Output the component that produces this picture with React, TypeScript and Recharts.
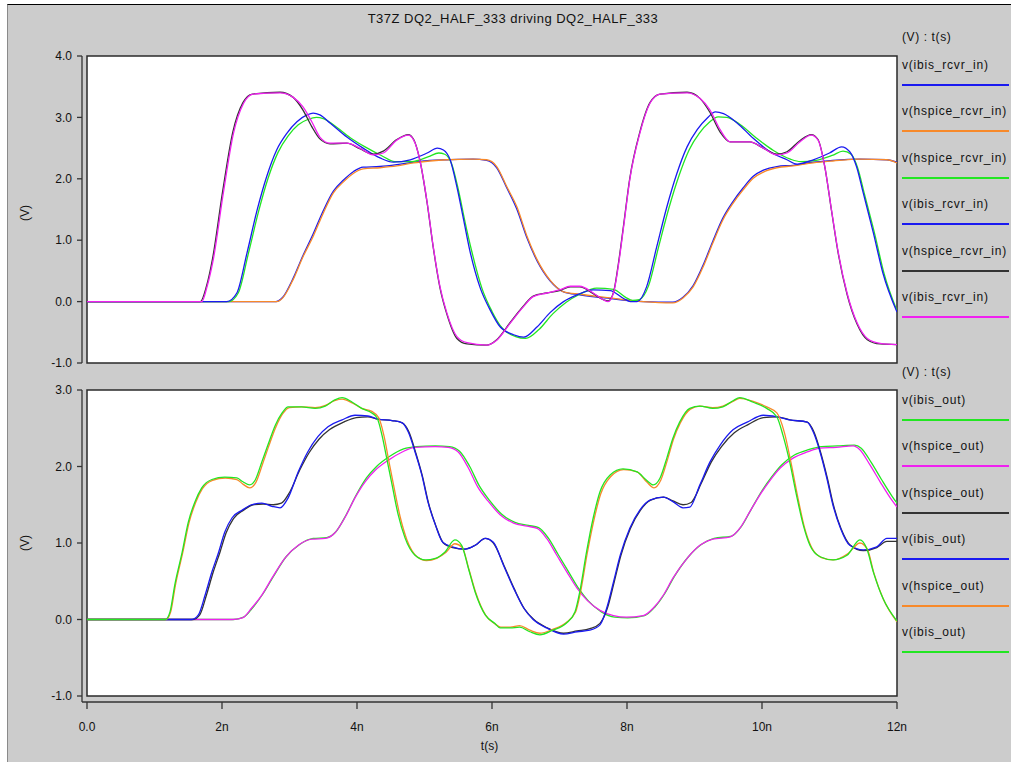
import React from 'react';
import { LineChart, Line, XAxis, YAxis, ReferenceArea } from 'recharts';

type Pt = [number, number];

const timeTicks = [0, 2, 4, 6, 8, 10, 12];
const topTicks = [-1, 0, 1, 2, 3, 4];
const bottomTicks = [-1, 0, 1, 2, 3];

const chartTitle = 'T37Z DQ2_HALF_333 driving DQ2_HALF_333';
const legendHeader = '(V) : t(s)';

// ---- top panel (receiver inputs) ----
const topFastIbis: Pt[] = [[0,0],[1.70,0],[1.78,0.25],[1.87,0.68],[2.02,1.77],[2.17,2.74],[2.32,3.23],[2.46,3.38],[2.86,3.40],[3.05,3.33],[3.2,3.17],[3.33,2.93],[3.45,2.68],[3.6,2.58],[3.85,2.58],[4.04,2.5],[4.24,2.39],[4.39,2.42],[4.59,2.63],[4.76,2.71],[4.84,2.63],[4.93,2.31],[5.04,1.61],[5.13,0.89],[5.23,0.24],[5.33,-0.18],[5.48,-0.57],[5.63,-0.67],[5.92,-0.71],[6.07,-0.63],[6.27,-0.35],[6.46,-0.09],[6.61,0.08],[6.81,0.14],[7.0,0.19],[7.16,0.25],[7.3,0.25],[7.5,0.14],[7.65,0.03],[7.72,0.0],[7.8,0.14],[7.87,0.57],[7.95,1.22],[8.04,1.98],[8.19,2.74],[8.34,3.23],[8.49,3.38],[8.89,3.40],[9.08,3.31],[9.23,3.12],[9.38,2.8],[9.53,2.6],[9.82,2.6],[10.02,2.5],[10.22,2.39],[10.37,2.42],[10.56,2.6],[10.73,2.71],[10.83,2.63],[10.93,2.2],[11.03,1.49],[11.13,0.8],[11.26,0.14],[11.41,-0.35],[11.56,-0.6],[11.75,-0.68],[12.0,-0.7]];
const topFastHspice: Pt[] = [[0,0],[1.68,0],[1.77,0.25],[1.86,0.7],[2.01,1.8],[2.16,2.76],[2.31,3.24],[2.45,3.38],[2.86,3.41],[3.05,3.33],[3.2,3.12],[3.33,2.85],[3.45,2.65],[3.6,2.57],[3.85,2.58],[4.04,2.49],[4.24,2.4],[4.39,2.45],[4.59,2.64],[4.76,2.72],[4.84,2.64],[4.93,2.31],[5.04,1.6],[5.13,0.88],[5.23,0.22],[5.33,-0.2],[5.48,-0.6],[5.63,-0.69],[5.92,-0.71],[6.07,-0.62],[6.27,-0.34],[6.46,-0.08],[6.61,0.09],[6.81,0.14],[7.0,0.18],[7.16,0.24],[7.3,0.24],[7.5,0.13],[7.65,0.03],[7.72,0.01],[7.8,0.15],[7.87,0.6],[7.95,1.25],[8.04,2.0],[8.19,2.76],[8.34,3.24],[8.49,3.38],[8.89,3.41],[9.08,3.31],[9.23,3.08],[9.38,2.76],[9.53,2.6],[9.82,2.6],[10.02,2.5],[10.22,2.4],[10.37,2.44],[10.56,2.62],[10.73,2.72],[10.83,2.64],[10.93,2.2],[11.03,1.48],[11.13,0.78],[11.26,0.12],[11.41,-0.37],[11.56,-0.62],[11.75,-0.69],[12.0,-0.7]];
const topMidIbis: Pt[] = [[0,0],[2.07,0],[2.22,0.14],[2.37,0.79],[2.52,1.49],[2.66,2.03],[2.81,2.47],[2.96,2.74],[3.11,2.93],[3.26,3.04],[3.35,3.07],[3.45,3.04],[3.6,2.91],[3.85,2.68],[4.09,2.5],[4.34,2.34],[4.54,2.27],[4.79,2.31],[5.04,2.42],[5.19,2.5],[5.28,2.47],[5.38,2.31],[5.48,1.87],[5.58,1.33],[5.67,0.84],[5.82,0.24],[5.97,-0.13],[6.12,-0.41],[6.32,-0.54],[6.47,-0.58],[6.67,-0.41],[6.86,-0.18],[7.06,0.0],[7.26,0.11],[7.5,0.19],[7.75,0.18],[7.95,0.05],[8.05,0.0],[8.15,0.0],[8.29,0.24],[8.44,0.89],[8.59,1.54],[8.74,2.09],[8.89,2.52],[9.04,2.8],[9.19,2.99],[9.31,3.09],[9.43,3.06],[9.63,2.91],[9.87,2.66],[10.12,2.44],[10.37,2.31],[10.52,2.24],[10.76,2.31],[11.0,2.42],[11.18,2.52],[11.3,2.44],[11.4,2.2],[11.5,1.77],[11.65,1.12],[11.79,0.47],[12.0,-0.17]];
const topMidHspice: Pt[] = [[0,0],[2.1,0],[2.24,0.14],[2.39,0.78],[2.54,1.46],[2.68,2.0],[2.83,2.43],[2.98,2.7],[3.13,2.88],[3.28,2.97],[3.4,3.0],[3.5,2.98],[3.65,2.88],[3.9,2.67],[4.12,2.52],[4.36,2.38],[4.56,2.28],[4.81,2.28],[5.06,2.36],[5.21,2.42],[5.3,2.4],[5.4,2.25],[5.5,1.83],[5.6,1.3],[5.7,0.82],[5.85,0.22],[6.0,-0.16],[6.15,-0.43],[6.35,-0.57],[6.5,-0.6],[6.7,-0.45],[6.9,-0.2],[7.1,-0.01],[7.3,0.12],[7.55,0.22],[7.8,0.2],[7.98,0.07],[8.08,0.02],[8.18,0.03],[8.32,0.26],[8.47,0.9],[8.62,1.52],[8.77,2.05],[8.92,2.47],[9.07,2.74],[9.22,2.92],[9.35,3.01],[9.48,3.0],[9.68,2.88],[9.92,2.66],[10.17,2.46],[10.42,2.32],[10.57,2.28],[10.8,2.3],[11.04,2.38],[11.2,2.45],[11.32,2.4],[11.42,2.17],[11.52,1.74],[11.67,1.1],[11.81,0.45],[12.0,-0.15]];
const topSlowHspice: Pt[] = [[0,0],[2.81,0],[2.9,0.06],[3.05,0.35],[3.2,0.73],[3.35,1.06],[3.5,1.44],[3.65,1.77],[3.8,1.95],[3.95,2.09],[4.09,2.16],[4.34,2.18],[4.59,2.21],[4.84,2.26],[5.08,2.29],[5.33,2.31],[5.72,2.32],[5.92,2.31],[6.07,2.2],[6.22,1.87],[6.37,1.54],[6.52,1.06],[6.67,0.68],[6.86,0.35],[7.06,0.16],[7.3,0.12],[7.75,0.06],[8.24,0.0],[8.68,-0.02],[8.83,0.06],[8.98,0.24],[9.13,0.57],[9.27,0.95],[9.42,1.33],[9.57,1.6],[9.72,1.82],[9.87,2.01],[10.02,2.11],[10.22,2.18],[10.46,2.21],[10.76,2.26],[11.05,2.29],[11.45,2.32],[11.85,2.31],[12.0,2.26]];
const topSlowIbis: Pt[] = [[0,0],[2.8,0],[2.9,0.07],[3.05,0.37],[3.2,0.75],[3.35,1.1],[3.5,1.48],[3.65,1.8],[3.8,1.98],[3.95,2.12],[4.09,2.19],[4.34,2.2],[4.59,2.23],[4.84,2.27],[5.08,2.3],[5.33,2.31],[5.72,2.32],[5.92,2.3],[6.07,2.18],[6.22,1.85],[6.37,1.5],[6.52,1.03],[6.67,0.66],[6.86,0.34],[7.06,0.16],[7.3,0.11],[7.75,0.05],[8.24,0.0],[8.68,-0.01],[8.83,0.07],[8.98,0.26],[9.13,0.6],[9.27,0.98],[9.42,1.36],[9.57,1.63],[9.72,1.85],[9.87,2.04],[10.02,2.14],[10.22,2.2],[10.46,2.22],[10.76,2.27],[11.05,2.3],[11.45,2.32],[11.85,2.31],[12.0,2.27]];

// ---- bottom panel (driver outputs) ----
const botFastIbis: Pt[] = [[0,0],[1.16,0],[1.23,0.1],[1.3,0.45],[1.41,0.88],[1.5,1.27],[1.6,1.54],[1.7,1.72],[1.85,1.83],[2.04,1.86],[2.22,1.85],[2.31,1.8],[2.41,1.76],[2.49,1.82],[2.59,2.06],[2.68,2.28],[2.79,2.54],[2.89,2.7],[2.98,2.78],[3.18,2.78],[3.38,2.76],[3.53,2.79],[3.67,2.87],[3.78,2.9],[3.93,2.84],[4.07,2.76],[4.22,2.7],[4.3,2.63],[4.37,2.41],[4.44,2.11],[4.52,1.76],[4.61,1.37],[4.71,1.07],[4.86,0.84],[5.01,0.78],[5.16,0.8],[5.3,0.88],[5.45,1.04],[5.55,0.97],[5.65,0.67],[5.75,0.36],[5.9,0.06],[6.04,-0.05],[6.12,-0.11],[6.27,-0.11],[6.41,-0.1],[6.56,-0.16],[6.71,-0.2],[6.9,-0.14],[7.1,-0.05],[7.23,0.1],[7.3,0.36],[7.4,0.88],[7.5,1.33],[7.6,1.67],[7.75,1.89],[7.94,1.97],[8.15,1.93],[8.29,1.82],[8.39,1.76],[8.49,1.85],[8.59,2.11],[8.68,2.37],[8.78,2.58],[8.93,2.76],[9.08,2.79],[9.27,2.76],[9.42,2.78],[9.57,2.86],[9.67,2.9],[9.87,2.84],[10.07,2.76],[10.22,2.65],[10.31,2.41],[10.41,2.06],[10.51,1.63],[10.61,1.24],[10.71,0.97],[10.86,0.82],[11.05,0.78],[11.26,0.84],[11.45,1.04],[11.55,0.93],[11.65,0.62],[11.79,0.28],[12.0,-0.02]];
const botFastHspice: Pt[] = [[0,0],[1.17,0],[1.24,0.1],[1.31,0.45],[1.42,0.88],[1.51,1.26],[1.61,1.53],[1.71,1.71],[1.86,1.82],[2.05,1.85],[2.22,1.83],[2.31,1.77],[2.41,1.72],[2.5,1.79],[2.6,2.03],[2.69,2.26],[2.8,2.52],[2.9,2.69],[3.0,2.77],[3.18,2.78],[3.38,2.77],[3.53,2.8],[3.67,2.86],[3.78,2.88],[3.93,2.83],[4.07,2.76],[4.22,2.72],[4.32,2.64],[4.4,2.4],[4.47,2.08],[4.55,1.72],[4.64,1.34],[4.74,1.04],[4.89,0.82],[5.03,0.77],[5.18,0.8],[5.32,0.88],[5.45,0.99],[5.56,0.94],[5.66,0.65],[5.76,0.35],[5.91,0.05],[6.05,-0.06],[6.13,-0.1],[6.27,-0.1],[6.41,-0.08],[6.56,-0.14],[6.71,-0.18],[6.9,-0.13],[7.1,-0.04],[7.24,0.1],[7.31,0.35],[7.41,0.86],[7.51,1.3],[7.61,1.64],[7.76,1.87],[7.95,1.96],[8.15,1.93],[8.29,1.8],[8.4,1.72],[8.5,1.82],[8.6,2.09],[8.69,2.36],[8.79,2.57],[8.94,2.75],[9.08,2.79],[9.27,2.77],[9.42,2.79],[9.57,2.85],[9.67,2.89],[9.87,2.85],[10.07,2.78],[10.22,2.7],[10.33,2.45],[10.43,2.05],[10.53,1.6],[10.63,1.2],[10.73,0.95],[10.88,0.81],[11.06,0.78],[11.27,0.86],[11.45,1.0],[11.56,0.92],[11.66,0.6],[11.8,0.26],[12.0,-0.03]];
const botMidIbis: Pt[] = [[0,0],[1.55,0],[1.65,0.06],[1.75,0.32],[1.85,0.62],[1.95,0.88],[2.04,1.14],[2.15,1.33],[2.3,1.43],[2.44,1.5],[2.59,1.52],[2.74,1.48],[2.86,1.46],[2.98,1.59],[3.13,1.93],[3.27,2.19],[3.42,2.39],[3.57,2.52],[3.78,2.61],[3.97,2.67],[4.16,2.66],[4.31,2.62],[4.52,2.6],[4.67,2.57],[4.76,2.45],[4.86,2.19],[4.96,1.89],[5.05,1.54],[5.16,1.24],[5.27,1.01],[5.41,0.95],[5.6,0.92],[5.75,0.97],[5.9,1.06],[6.02,1.01],[6.17,0.71],[6.32,0.41],[6.47,0.15],[6.61,0.0],[6.81,-0.11],[7.06,-0.19],[7.26,-0.16],[7.45,-0.14],[7.6,-0.07],[7.7,0.15],[7.8,0.49],[7.9,0.84],[8.04,1.19],[8.19,1.43],[8.34,1.56],[8.54,1.6],[8.68,1.54],[8.83,1.46],[8.93,1.47],[9.08,1.76],[9.23,2.06],[9.38,2.28],[9.57,2.48],[9.78,2.58],[10.02,2.67],[10.22,2.65],[10.41,2.61],[10.67,2.58],[10.76,2.45],[10.86,2.19],[10.96,1.85],[11.05,1.5],[11.16,1.2],[11.3,0.97],[11.5,0.91],[11.7,0.95],[11.85,1.06],[12.0,1.06]];
const botMidHspice: Pt[] = [[0,0],[1.57,0],[1.67,0.06],[1.77,0.32],[1.87,0.62],[1.97,0.88],[2.06,1.13],[2.17,1.32],[2.32,1.43],[2.46,1.5],[2.61,1.51],[2.76,1.5],[2.88,1.52],[3.0,1.66],[3.15,1.95],[3.29,2.18],[3.44,2.36],[3.59,2.48],[3.8,2.58],[3.99,2.64],[4.16,2.65],[4.31,2.62],[4.52,2.6],[4.67,2.57],[4.77,2.45],[4.87,2.18],[4.97,1.87],[5.06,1.52],[5.17,1.22],[5.28,1.0],[5.42,0.94],[5.6,0.92],[5.75,0.97],[5.9,1.06],[6.02,1.0],[6.18,0.7],[6.33,0.4],[6.48,0.14],[6.62,0.0],[6.82,-0.11],[7.06,-0.18],[7.26,-0.15],[7.45,-0.12],[7.6,-0.05],[7.71,0.15],[7.81,0.49],[7.91,0.84],[8.05,1.19],[8.2,1.43],[8.35,1.56],[8.54,1.6],[8.68,1.55],[8.83,1.5],[8.95,1.53],[9.1,1.78],[9.25,2.06],[9.4,2.26],[9.59,2.44],[9.8,2.55],[10.02,2.64],[10.22,2.65],[10.41,2.61],[10.67,2.58],[10.77,2.45],[10.87,2.18],[10.97,1.84],[11.06,1.49],[11.17,1.19],[11.31,0.97],[11.5,0.9],[11.7,0.94],[11.85,1.02],[12.0,1.02]];
const botSlowHspice: Pt[] = [[0,0],[2.15,0],[2.3,0.02],[2.44,0.15],[2.59,0.32],[2.74,0.54],[2.93,0.8],[3.13,0.97],[3.33,1.05],[3.53,1.06],[3.67,1.13],[3.82,1.33],[3.97,1.59],[4.12,1.8],[4.27,1.95],[4.46,2.08],[4.67,2.19],[4.86,2.25],[5.16,2.26],[5.35,2.25],[5.5,2.19],[5.65,1.98],[5.79,1.73],[5.94,1.55],[6.12,1.37],[6.32,1.26],[6.52,1.22],[6.67,1.19],[6.81,1.06],[6.96,0.84],[7.11,0.62],[7.26,0.41],[7.41,0.25],[7.6,0.12],[7.8,0.05],[7.99,0.03],[8.24,0.05],[8.39,0.15],[8.54,0.32],[8.68,0.54],[8.89,0.8],[9.08,0.97],[9.27,1.05],[9.53,1.08],[9.67,1.19],[9.82,1.41],[9.97,1.63],[10.12,1.82],[10.27,1.98],[10.46,2.11],[10.67,2.19],[10.86,2.24],[11.1,2.25],[11.35,2.27],[11.45,2.22],[11.6,2.02],[11.75,1.8],[11.9,1.59],[12.0,1.47]];
const botSlowIbis: Pt[] = [[0,0],[2.17,0],[2.32,0.03],[2.46,0.16],[2.61,0.34],[2.76,0.56],[2.95,0.82],[3.15,0.98],[3.35,1.06],[3.55,1.07],[3.69,1.15],[3.84,1.37],[3.99,1.63],[4.14,1.85],[4.29,2.0],[4.48,2.13],[4.69,2.23],[4.88,2.26],[5.16,2.27],[5.37,2.26],[5.52,2.2],[5.67,2.0],[5.81,1.75],[5.96,1.56],[6.14,1.38],[6.34,1.27],[6.54,1.23],[6.69,1.2],[6.83,1.07],[6.98,0.85],[7.13,0.63],[7.28,0.41],[7.43,0.24],[7.62,0.1],[7.82,0.03],[8.01,0.02],[8.26,0.05],[8.41,0.16],[8.56,0.34],[8.7,0.56],[8.91,0.82],[9.1,0.98],[9.29,1.06],[9.55,1.09],[9.69,1.21],[9.84,1.44],[9.99,1.67],[10.14,1.86],[10.29,2.02],[10.48,2.15],[10.69,2.22],[10.88,2.26],[11.12,2.27],[11.37,2.28],[11.47,2.24],[11.62,2.05],[11.77,1.83],[11.92,1.62],[12.0,1.52]];

const BLUE = '#1a1af0';
const ORANGE = '#f7892a';
const GREEN = '#22e622';
const BLACK = '#333333';
const MAGENTA = '#f020f0';

interface Series { name: string; color: string; pts: Pt[] }

// legend order
const topSeries: Series[] = [
  { name: 'v(ibis_rcvr_in)', color: BLUE, pts: topSlowIbis },
  { name: 'v(hspice_rcvr_in)', color: ORANGE, pts: topSlowHspice },
  { name: 'v(hspice_rcvr_in)', color: GREEN, pts: topMidHspice },
  { name: 'v(ibis_rcvr_in)', color: BLUE, pts: topMidIbis },
  { name: 'v(hspice_rcvr_in)', color: BLACK, pts: topFastHspice },
  { name: 'v(ibis_rcvr_in)', color: MAGENTA, pts: topFastIbis },
];
const bottomSeries: Series[] = [
  { name: 'v(ibis_out)', color: GREEN, pts: botSlowIbis },
  { name: 'v(hspice_out)', color: MAGENTA, pts: botSlowHspice },
  { name: 'v(hspice_out)', color: BLACK, pts: botMidHspice },
  { name: 'v(ibis_out)', color: BLUE, pts: botMidIbis },
  { name: 'v(hspice_out)', color: ORANGE, pts: botFastHspice },
  { name: 'v(ibis_out)', color: GREEN, pts: botFastIbis },
];
const topDrawOrder = [0, 1, 2, 3, 4, 5];
const bottomDrawOrder = [0, 1, 2, 3, 4, 5];

const FONT = '"Liberation Sans", Arial, Helvetica, sans-serif';
const tickStyle = { fontSize: 12, fill: '#111', fontFamily: FONT };
const fmtY = (v: number) => v.toFixed(1);
const fmtX = (v: number) => (v === 0 ? '0.0' : `${v}n`);

function Legend({ series, top }: { series: Series[]; top: number }) {
  return (
    <div style={{ position: 'absolute', left: 902, top, width: 108 }}>
      <div style={{ position: 'absolute', top: -8, left: 0, fontSize: 12, letterSpacing: 0.6, whiteSpace: 'nowrap' }}>{legendHeader}</div>
      {series.map((s, i) => (
        <div key={i} style={{ position: 'absolute', left: 0, top: Math.round(19 + i * 46.4), width: 107 }}>
          <div style={{ fontSize: 12, letterSpacing: 0.8, whiteSpace: 'nowrap', lineHeight: '16px' }}>{s.name}</div>
          <div style={{ position: 'absolute', top: 27, left: 0, width: 107, height: 2, background: s.color }} />
        </div>
      ))}
    </div>
  );
}

function lines(series: Series[], order: number[]) {
  return order.map((i) => {
    const s = series[i];
    return (
      <Line
        key={i}
        data={s.pts.map(([t, v]) => ({ t, v }))}
        dataKey="v"
        type="monotone"
        stroke={s.color}
        strokeWidth={1.3}
        dot={false}
        isAnimationActive={false}
        name={s.name}
      />
    );
  });
}

export default function App() {
  return (
    <div style={{ position: 'absolute', left: 0, top: 0, width: 1011, height: 762, background: '#fff', overflow: 'hidden', fontFamily: FONT, color: '#111' }}>
      <div style={{ position: 'absolute', left: 7, top: 4, width: 1004, height: 758, background: '#cccccc', borderLeft: '1px solid #8a8a8a', borderTop: '1px solid #000', boxSizing: 'border-box' }} />
      <div style={{ position: 'absolute', left: 0, width: 1026, top: 11, textAlign: 'center', fontSize: 13, letterSpacing: 0.5 }}>{chartTitle}</div>

      <div style={{ position: 'absolute', top: 213, left: 25, transform: 'translate(-50%, -50%) rotate(-90deg)', fontSize: 12 }}>(V)</div>
      <div style={{ position: 'absolute', top: 543, left: 25, transform: 'translate(-50%, -50%) rotate(-90deg)', fontSize: 12 }}>(V)</div>

      <Legend series={topSeries} top={38} />
      <Legend series={bottomSeries} top={373} />

      <div style={{ position: 'absolute', left: 0, top: 0 }}>
        <LineChart width={1011} height={380} margin={{ top: 56, right: 114, bottom: 17, left: 0 }}>
          <XAxis type="number" dataKey="t" domain={[0, 12]} ticks={timeTicks} hide padding={{ left: 5, right: 0 }} allowDataOverflow />
          <YAxis
            type="number"
            domain={[-1, 4]}
            ticks={topTicks}
            width={82}
            interval={0}
            tickSize={5}
            tickMargin={5}
            tickFormatter={fmtY}
            tick={tickStyle}
            axisLine={{ stroke: '#333', strokeWidth: 1.3 }}
            tickLine={{ stroke: '#333', strokeWidth: 1.3 }}
            allowDataOverflow
          />
          <ReferenceArea x1={0} x2={12} y1={-1} y2={4} fill="#ffffff" fillOpacity={1} stroke="#2a2a2a" strokeWidth={1.5} />
          {lines(topSeries, topDrawOrder)}
        </LineChart>
      </div>

      <div style={{ position: 'absolute', left: 0, top: 370 }}>
        <LineChart width={1011} height={392} margin={{ top: 20, right: 114, bottom: 0, left: 0 }}>
          <XAxis
            type="number"
            dataKey="t"
            domain={[0, 12]}
            ticks={timeTicks}
            interval={0}
            height={60}
            padding={{ left: 5, right: 0 }}
            tickSize={7}
            tickMargin={13}
            tickFormatter={fmtX}
            tick={tickStyle}
            axisLine={{ stroke: '#333', strokeWidth: 1.3 }}
            tickLine={{ stroke: '#333', strokeWidth: 1.3 }}
            label={{ value: 't(s)', position: 'insideBottom', offset: 12, style: { fontSize: 12, fill: '#111', fontFamily: FONT } }}
            allowDataOverflow
          />
          <YAxis
            type="number"
            domain={[-1, 3]}
            ticks={bottomTicks}
            width={82}
            interval={0}
            padding={{ top: 0, bottom: 6 }}
            tickSize={5}
            tickMargin={5}
            tickFormatter={fmtY}
            tick={tickStyle}
            axisLine={{ stroke: '#333', strokeWidth: 1.3 }}
            tickLine={{ stroke: '#333', strokeWidth: 1.3 }}
            allowDataOverflow
          />
          <ReferenceArea x1={0} x2={12} y1={-1} y2={3} fill="#ffffff" fillOpacity={1} stroke="#2a2a2a" strokeWidth={1.5} />
          {lines(bottomSeries, bottomDrawOrder)}
        </LineChart>
      </div>
    </div>
  );
}
